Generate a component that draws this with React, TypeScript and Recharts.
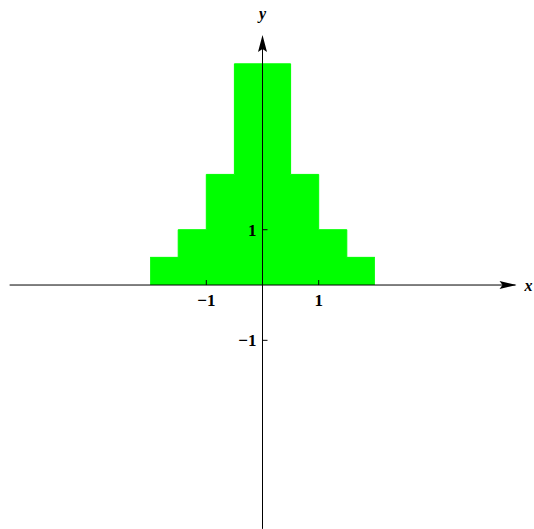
import React from 'react';
import { ComposedChart, Area, XAxis, YAxis, ReferenceLine, ReferenceDot } from 'recharts';

const stepEdges = [-2, -1.5, -1, -0.5, 0.5, 1, 1.5, 2];
const stepHeights = [0.5, 1, 2, 4, 2, 1, 0.5, 0.5];
const xTicks = [-1, 1];
const yTicks = [-1, 1];
const xTickLabels = ['−1', '1'];
const yTickLabels = ['−1', '1'];

const data = stepEdges.map((x, i) => ({ x, y: stepHeights[i] }));

const X_DOMAIN: [number, number] = [-4.671, 4.831];
const Y_DOMAIN: [number, number] = [-4.412, 5.154];

const labelFont = { fontFamily: '"Liberation Serif", "DejaVu Serif", serif', fontWeight: 700, fontSize: 17 } as const;

const XTickShape = (label: string) => (p: any) => (
  <g>
    <line x1={p.cx} y1={p.cy} x2={p.cx} y2={p.cy - 5} stroke="#000" strokeWidth={1} />
    <text x={p.cx} y={p.cy + 21} textAnchor="middle" style={labelFont} fill="#000">{label}</text>
  </g>
);

const YTickShape = (label: string) => (p: any) => (
  <g>
    <line x1={p.cx} y1={p.cy} x2={p.cx + 5} y2={p.cy} stroke="#000" strokeWidth={1} />
    <text x={p.cx - 6} y={p.cy + 6} textAnchor="end" style={labelFont} fill="#000">{label}</text>
  </g>
);

const XArrow = (p: any) => (
  <g>
    <polygon points={`${p.cx},${p.cy} ${p.cx - 17},${p.cy - 4} ${p.cx - 14},${p.cy} ${p.cx - 17},${p.cy + 4}`} fill="#000" />
    <text x={p.cx + 12} y={p.cy + 6} textAnchor="middle" style={{ ...labelFont, fontSize: 16, fontStyle: 'italic' }} fill="#000">x</text>
  </g>
);

const YArrow = (p: any) => (
  <g>
    <polygon points={`${p.cx},${p.cy} ${p.cx - 4.5},${p.cy + 17} ${p.cx},${p.cy + 14} ${p.cx + 4.5},${p.cy + 17}`} fill="#000" />
    <text x={p.cx} y={p.cy - 16} textAnchor="middle" style={{ ...labelFont, fontSize: 16, fontStyle: 'italic' }} fill="#000">y</text>
  </g>
);

export default function App() {
  return (
    <div style={{ position: 'absolute', left: 0, top: 0, width: 534, height: 529, background: '#fff' }}>
      <ComposedChart width={534} height={529} data={data} margin={{ top: 0, right: 0, bottom: 0, left: 0 }}>
        <XAxis type="number" dataKey="x" domain={X_DOMAIN} allowDataOverflow hide />
        <YAxis type="number" domain={Y_DOMAIN} allowDataOverflow hide />
        <Area
          dataKey="y"
          type="stepAfter"
          fill="#00ff00"
          fillOpacity={1}
          stroke="#00ff00"
          strokeWidth={1}
          baseValue={0}
          isAnimationActive={false}
          dot={false}
          activeDot={false}
        />
        <ReferenceLine segment={[{ x: -4.5, y: 0 }, { x: 4.5, y: 0 }]} stroke="#000" strokeWidth={1} />
        <ReferenceLine segment={[{ x: 0, y: -4.41 }, { x: 0, y: 4.4 }]} stroke="#000" strokeWidth={1} />
        <ReferenceDot x={4.52} y={0} r={0} shape={XArrow} />
        <ReferenceDot x={0} y={4.52} r={0} shape={YArrow} />
        {xTicks.map((t, i) => (
          <ReferenceDot key={'xt' + t} x={t} y={0} r={0} shape={XTickShape(xTickLabels[i])} />
        ))}
        {yTicks.map((t, i) => (
          <ReferenceDot key={'yt' + t} x={0} y={t} r={0} shape={YTickShape(yTickLabels[i])} />
        ))}
      </ComposedChart>
    </div>
  );
}
